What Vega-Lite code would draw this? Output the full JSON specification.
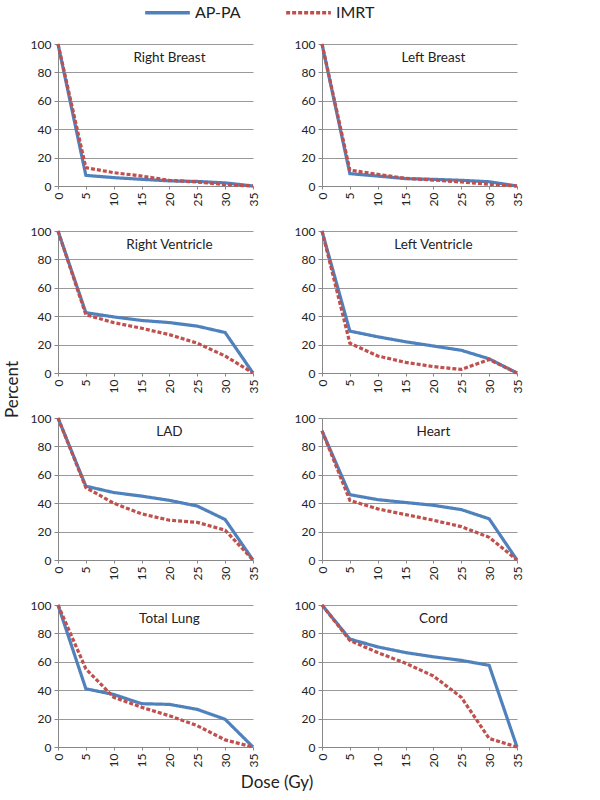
{
  "$schema": "https://vega.github.io/schema/vega-lite/v6.json",
  "background": "white",
  "padding": {"left": 4, "top": -12, "right": 5, "bottom": 5},
  "data": {"values": [
    {"organ": "Right Breast", "series": "AP-PA", "dose": 0, "percent": 100},
    {"organ": "Right Breast", "series": "AP-PA", "dose": 5, "percent": 7.5},
    {"organ": "Right Breast", "series": "AP-PA", "dose": 10, "percent": 5.9},
    {"organ": "Right Breast", "series": "AP-PA", "dose": 15, "percent": 4.7},
    {"organ": "Right Breast", "series": "AP-PA", "dose": 20, "percent": 3.6},
    {"organ": "Right Breast", "series": "AP-PA", "dose": 25, "percent": 3.2},
    {"organ": "Right Breast", "series": "AP-PA", "dose": 30, "percent": 2.2},
    {"organ": "Right Breast", "series": "AP-PA", "dose": 35, "percent": 0},
    {"organ": "Right Breast", "series": "IMRT", "dose": 0, "percent": 100},
    {"organ": "Right Breast", "series": "IMRT", "dose": 5, "percent": 12.9},
    {"organ": "Right Breast", "series": "IMRT", "dose": 10, "percent": 9.4},
    {"organ": "Right Breast", "series": "IMRT", "dose": 15, "percent": 7},
    {"organ": "Right Breast", "series": "IMRT", "dose": 20, "percent": 4},
    {"organ": "Right Breast", "series": "IMRT", "dose": 25, "percent": 2.8},
    {"organ": "Right Breast", "series": "IMRT", "dose": 30, "percent": 1},
    {"organ": "Right Breast", "series": "IMRT", "dose": 35, "percent": 0},
    {"organ": "Left Breast", "series": "AP-PA", "dose": 0, "percent": 100},
    {"organ": "Left Breast", "series": "AP-PA", "dose": 5, "percent": 8.7},
    {"organ": "Left Breast", "series": "AP-PA", "dose": 10, "percent": 7},
    {"organ": "Left Breast", "series": "AP-PA", "dose": 15, "percent": 5.2},
    {"organ": "Left Breast", "series": "AP-PA", "dose": 20, "percent": 4.7},
    {"organ": "Left Breast", "series": "AP-PA", "dose": 25, "percent": 4},
    {"organ": "Left Breast", "series": "AP-PA", "dose": 30, "percent": 3},
    {"organ": "Left Breast", "series": "AP-PA", "dose": 35, "percent": 0},
    {"organ": "Left Breast", "series": "IMRT", "dose": 0, "percent": 100},
    {"organ": "Left Breast", "series": "IMRT", "dose": 5, "percent": 11.2},
    {"organ": "Left Breast", "series": "IMRT", "dose": 10, "percent": 8.2},
    {"organ": "Left Breast", "series": "IMRT", "dose": 15, "percent": 5.4},
    {"organ": "Left Breast", "series": "IMRT", "dose": 20, "percent": 4.2},
    {"organ": "Left Breast", "series": "IMRT", "dose": 25, "percent": 2.8},
    {"organ": "Left Breast", "series": "IMRT", "dose": 30, "percent": 1.2},
    {"organ": "Left Breast", "series": "IMRT", "dose": 35, "percent": 0},
    {"organ": "Right Ventricle", "series": "AP-PA", "dose": 0, "percent": 100},
    {"organ": "Right Ventricle", "series": "AP-PA", "dose": 5, "percent": 42.5},
    {"organ": "Right Ventricle", "series": "AP-PA", "dose": 10, "percent": 39.5},
    {"organ": "Right Ventricle", "series": "AP-PA", "dose": 15, "percent": 37},
    {"organ": "Right Ventricle", "series": "AP-PA", "dose": 20, "percent": 35.5},
    {"organ": "Right Ventricle", "series": "AP-PA", "dose": 25, "percent": 33},
    {"organ": "Right Ventricle", "series": "AP-PA", "dose": 30, "percent": 28.5},
    {"organ": "Right Ventricle", "series": "AP-PA", "dose": 35, "percent": 0},
    {"organ": "Right Ventricle", "series": "IMRT", "dose": 0, "percent": 100},
    {"organ": "Right Ventricle", "series": "IMRT", "dose": 5, "percent": 41},
    {"organ": "Right Ventricle", "series": "IMRT", "dose": 10, "percent": 35.5},
    {"organ": "Right Ventricle", "series": "IMRT", "dose": 15, "percent": 31.5},
    {"organ": "Right Ventricle", "series": "IMRT", "dose": 20, "percent": 27},
    {"organ": "Right Ventricle", "series": "IMRT", "dose": 25, "percent": 21},
    {"organ": "Right Ventricle", "series": "IMRT", "dose": 30, "percent": 12},
    {"organ": "Right Ventricle", "series": "IMRT", "dose": 35, "percent": 0},
    {"organ": "Left Ventricle", "series": "AP-PA", "dose": 0, "percent": 100},
    {"organ": "Left Ventricle", "series": "AP-PA", "dose": 5, "percent": 29.5},
    {"organ": "Left Ventricle", "series": "AP-PA", "dose": 10, "percent": 25.5},
    {"organ": "Left Ventricle", "series": "AP-PA", "dose": 15, "percent": 22},
    {"organ": "Left Ventricle", "series": "AP-PA", "dose": 20, "percent": 19},
    {"organ": "Left Ventricle", "series": "AP-PA", "dose": 25, "percent": 16},
    {"organ": "Left Ventricle", "series": "AP-PA", "dose": 30, "percent": 10},
    {"organ": "Left Ventricle", "series": "AP-PA", "dose": 35, "percent": 0},
    {"organ": "Left Ventricle", "series": "IMRT", "dose": 0, "percent": 100},
    {"organ": "Left Ventricle", "series": "IMRT", "dose": 5, "percent": 21},
    {"organ": "Left Ventricle", "series": "IMRT", "dose": 10, "percent": 12},
    {"organ": "Left Ventricle", "series": "IMRT", "dose": 15, "percent": 7.5},
    {"organ": "Left Ventricle", "series": "IMRT", "dose": 20, "percent": 4.5},
    {"organ": "Left Ventricle", "series": "IMRT", "dose": 25, "percent": 2.5},
    {"organ": "Left Ventricle", "series": "IMRT", "dose": 30, "percent": 9.5},
    {"organ": "Left Ventricle", "series": "IMRT", "dose": 35, "percent": 0},
    {"organ": "LAD", "series": "AP-PA", "dose": 0, "percent": 100},
    {"organ": "LAD", "series": "AP-PA", "dose": 5, "percent": 52},
    {"organ": "LAD", "series": "AP-PA", "dose": 10, "percent": 47.5},
    {"organ": "LAD", "series": "AP-PA", "dose": 15, "percent": 45},
    {"organ": "LAD", "series": "AP-PA", "dose": 20, "percent": 42},
    {"organ": "LAD", "series": "AP-PA", "dose": 25, "percent": 38},
    {"organ": "LAD", "series": "AP-PA", "dose": 30, "percent": 28.5},
    {"organ": "LAD", "series": "AP-PA", "dose": 35, "percent": 0},
    {"organ": "LAD", "series": "IMRT", "dose": 0, "percent": 100},
    {"organ": "LAD", "series": "IMRT", "dose": 5, "percent": 51},
    {"organ": "LAD", "series": "IMRT", "dose": 10, "percent": 40},
    {"organ": "LAD", "series": "IMRT", "dose": 15, "percent": 32.5},
    {"organ": "LAD", "series": "IMRT", "dose": 20, "percent": 28},
    {"organ": "LAD", "series": "IMRT", "dose": 25, "percent": 26.5},
    {"organ": "LAD", "series": "IMRT", "dose": 30, "percent": 21},
    {"organ": "LAD", "series": "IMRT", "dose": 35, "percent": 0},
    {"organ": "Heart", "series": "AP-PA", "dose": 0, "percent": 91},
    {"organ": "Heart", "series": "AP-PA", "dose": 5, "percent": 46},
    {"organ": "Heart", "series": "AP-PA", "dose": 10, "percent": 42.5},
    {"organ": "Heart", "series": "AP-PA", "dose": 15, "percent": 40.5},
    {"organ": "Heart", "series": "AP-PA", "dose": 20, "percent": 38.5},
    {"organ": "Heart", "series": "AP-PA", "dose": 25, "percent": 35.5},
    {"organ": "Heart", "series": "AP-PA", "dose": 30, "percent": 29},
    {"organ": "Heart", "series": "AP-PA", "dose": 35, "percent": 0},
    {"organ": "Heart", "series": "IMRT", "dose": 0, "percent": 91},
    {"organ": "Heart", "series": "IMRT", "dose": 5, "percent": 42},
    {"organ": "Heart", "series": "IMRT", "dose": 10, "percent": 36},
    {"organ": "Heart", "series": "IMRT", "dose": 15, "percent": 32},
    {"organ": "Heart", "series": "IMRT", "dose": 20, "percent": 28},
    {"organ": "Heart", "series": "IMRT", "dose": 25, "percent": 23.5},
    {"organ": "Heart", "series": "IMRT", "dose": 30, "percent": 16},
    {"organ": "Heart", "series": "IMRT", "dose": 35, "percent": 0},
    {"organ": "Total Lung", "series": "AP-PA", "dose": 0, "percent": 100},
    {"organ": "Total Lung", "series": "AP-PA", "dose": 5, "percent": 41},
    {"organ": "Total Lung", "series": "AP-PA", "dose": 10, "percent": 37},
    {"organ": "Total Lung", "series": "AP-PA", "dose": 15, "percent": 30.5},
    {"organ": "Total Lung", "series": "AP-PA", "dose": 20, "percent": 30},
    {"organ": "Total Lung", "series": "AP-PA", "dose": 25, "percent": 26.5},
    {"organ": "Total Lung", "series": "AP-PA", "dose": 30, "percent": 19.5},
    {"organ": "Total Lung", "series": "AP-PA", "dose": 35, "percent": 0},
    {"organ": "Total Lung", "series": "IMRT", "dose": 0, "percent": 100},
    {"organ": "Total Lung", "series": "IMRT", "dose": 5, "percent": 55},
    {"organ": "Total Lung", "series": "IMRT", "dose": 10, "percent": 35},
    {"organ": "Total Lung", "series": "IMRT", "dose": 15, "percent": 28},
    {"organ": "Total Lung", "series": "IMRT", "dose": 20, "percent": 22},
    {"organ": "Total Lung", "series": "IMRT", "dose": 25, "percent": 15},
    {"organ": "Total Lung", "series": "IMRT", "dose": 30, "percent": 5},
    {"organ": "Total Lung", "series": "IMRT", "dose": 35, "percent": 0},
    {"organ": "Cord", "series": "AP-PA", "dose": 0, "percent": 100},
    {"organ": "Cord", "series": "AP-PA", "dose": 5, "percent": 76},
    {"organ": "Cord", "series": "AP-PA", "dose": 10, "percent": 70.5},
    {"organ": "Cord", "series": "AP-PA", "dose": 15, "percent": 66.5},
    {"organ": "Cord", "series": "AP-PA", "dose": 20, "percent": 63.5},
    {"organ": "Cord", "series": "AP-PA", "dose": 25, "percent": 61},
    {"organ": "Cord", "series": "AP-PA", "dose": 30, "percent": 57.5},
    {"organ": "Cord", "series": "AP-PA", "dose": 35, "percent": 0},
    {"organ": "Cord", "series": "IMRT", "dose": 0, "percent": 100},
    {"organ": "Cord", "series": "IMRT", "dose": 5, "percent": 75},
    {"organ": "Cord", "series": "IMRT", "dose": 10, "percent": 66.5},
    {"organ": "Cord", "series": "IMRT", "dose": 15, "percent": 59},
    {"organ": "Cord", "series": "IMRT", "dose": 20, "percent": 50},
    {"organ": "Cord", "series": "IMRT", "dose": 25, "percent": 35},
    {"organ": "Cord", "series": "IMRT", "dose": 30, "percent": 6},
    {"organ": "Cord", "series": "IMRT", "dose": 35, "percent": 0}
  ]},
  "title": {"text": "Percent", "orient": "left", "anchor": "middle", "fontSize": 17, "font": "Lato", "fontWeight": "normal", "color": "#222", "offset": 8},
  "facet": {
    "field": "organ",
    "type": "nominal",
    "sort": ["Right Breast", "Left Breast", "Right Ventricle", "Left Ventricle", "LAD", "Heart", "Total Lung", "Cord"],
    "header": {"labels": false, "labelExpr": "''", "labelPadding": 0, "title": "Dose (Gy)", "titleOrient": "bottom", "titleFontSize": 17, "titleFont": "Lato", "titleFontWeight": "normal", "titleColor": "#222", "titlePadding": 8}
  },
  "columns": 2,
  "spacing": {"column": 34, "row": 8},
  "resolve": {"axis": {"x": "independent", "y": "independent"}},
  "spec": {
    "width": 195,
    "height": 142,
    "layer": [
      {
        "transform": [{"filter": "datum.series === 'AP-PA'"}],
        "mark": {"type": "line", "strokeWidth": 3.2, "interpolate": "linear"},
        "encoding": {
          "x": {"field": "dose", "type": "quantitative"},
          "y": {"field": "percent", "type": "quantitative"},
          "color": {"field": "series", "type": "nominal"},
          "strokeDash": {"field": "series", "type": "nominal"}
        }
      },
      {
        "transform": [{"filter": "datum.series === 'IMRT'"}],
        "mark": {"type": "line", "strokeWidth": 3.2, "interpolate": "linear"},
        "encoding": {
          "x": {"field": "dose", "type": "quantitative"},
          "y": {"field": "percent", "type": "quantitative"},
          "color": {"field": "series", "type": "nominal"},
          "strokeDash": {"field": "series", "type": "nominal"}
        }
      },
      {
        "transform": [{"filter": "datum.series === 'AP-PA' && datum.dose === 0"}],
        "mark": {"type": "text", "fontSize": 13.5, "font": "Lato", "color": "#222", "align": "center", "baseline": "middle"},
        "encoding": {
          "x": {"datum": 20},
          "y": {"datum": 90},
          "text": {"field": "organ", "type": "nominal"}
        }
      }
    ],
    "encoding": {}
  },
  "encoding": {},
  "config": {
    "view": {"stroke": null},
    "font": "Lato",
    "header": {"labels": false},
    "axisX": {
      "title": null, "grid": false, "values": [0, 5, 10, 15, 20, 25, 30, 35], "labelAngle": -90,
      "labelFontSize": 12, "labelColor": "#222", "labelFont": "Lato", "domainColor": "#888", "tickColor": "#888", "tickSize": 3, "labelPadding": 3
    },
    "axisY": {
      "title": null, "grid": true, "gridColor": "#999", "values": [0, 20, 40, 60, 80, 100],
      "labelFontSize": 12, "labelColor": "#222", "labelFont": "Lato", "domainColor": "#888", "tickColor": "#888", "tickSize": 4, "labelPadding": 3
    },
    "legend": {
      "orient": "none", "legendX": 85, "legendY": -56, "direction": "horizontal", "title": null, "symbolType": "M-1,0H1", "symbolSize": 2000, "symbolStrokeWidth": 3.5,
      "labelFontSize": 16, "labelFont": "Lato", "labelColor": "#222", "columnPadding": 38, "labelOffset": 3
    },
    "range": {"category": ["#4F81BD", "#C0504D"], "strokeDash": [[1, 0], [10, 4]]}
  }
}
